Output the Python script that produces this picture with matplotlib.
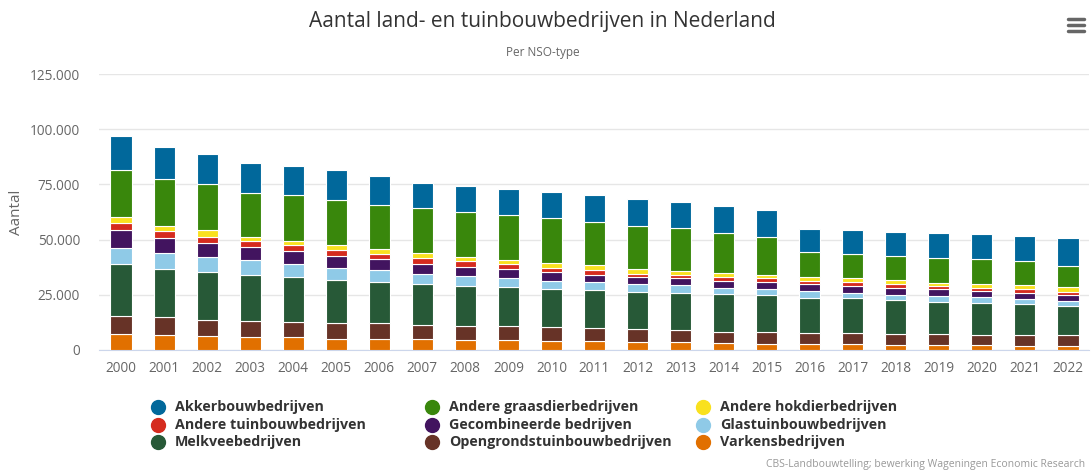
import matplotlib.pyplot as plt
import numpy as np
from matplotlib.ticker import FuncFormatter

# Aantal land- en tuinbouwbedrijven per NSO-type
jaren = [str(j) for j in range(2000, 2023)]

varkens = [7100, 6650, 6200, 5750, 5750, 5000, 5000, 4830, 4380, 4380, 3920, 3920,
           3470, 3470, 3020, 2720, 2720, 2720, 2260, 2260, 2260, 1810, 1810]
opengrond = [8400, 8150, 7400, 7400, 6950, 7100, 7100, 6640, 6490, 6490, 6340, 5890,
             5890, 5440, 5130, 5430, 4830, 4830, 4840, 4840, 4380, 4830, 4830]
melkvee = [23400, 21900, 21600, 20800, 20200, 19750, 18700, 18270, 18270, 17820, 17210, 17220,
           17060, 17060, 17210, 16610, 16150, 16150, 15550, 14640, 14500, 14050, 13440]
glas = [7400, 7100, 7050, 6650, 6050, 5450, 5300, 4830, 4370, 3920, 3930, 3770,
        3320, 3320, 2870, 2720, 2870, 2270, 2260, 2720, 2710, 2410, 2270]
gecombineerd = [8000, 6900, 6200, 5900, 5900, 5400, 5000, 4230, 4230, 4230, 3770, 3170,
                3170, 3170, 3170, 3170, 3170, 3170, 3170, 3170, 2720, 2870, 2560]
andere_tuinbouw = [3300, 3200, 2850, 2750, 2700, 2600, 2250, 2720, 2420, 2260, 2110, 2260,
                   1660, 1510, 1810, 1810, 1510, 1660, 1660, 1360, 1660, 1660, 1510]
hokdier = [2700, 2250, 2900, 1950, 1950, 2250, 2400, 2260, 2110, 1660, 2260, 2120,
           2270, 1810, 1510, 1660, 1660, 1660, 1820, 1350, 1510, 1660, 2110]
graasdier = [21400, 21450, 20850, 20050, 20550, 20400, 20050, 20380, 20380, 20230, 20380, 19470,
             19320, 19330, 18120, 17060, 11320, 11170, 11010, 11330, 11320, 11170, 9370]
akkerbouw = [15100, 14500, 13750, 13300, 13400, 13450, 12850, 11630, 11630, 11780, 11630, 12230,
             12230, 11770, 12230, 12380, 10720, 10720, 10720, 11170, 11330, 11170, 12820]

# stapelvolgorde van onder naar boven
series = [
    ("Varkensbedrijven", varkens, "#e17000"),
    ("Opengrondstuinbouwbedrijven", opengrond, "#673327"),
    ("Melkveebedrijven", melkvee, "#275937"),
    ("Glastuinbouwbedrijven", glas, "#8fcae7"),
    ("Gecombineerde bedrijven", gecombineerd, "#42145f"),
    ("Andere tuinbouwbedrijven", andere_tuinbouw, "#d52b1e"),
    ("Andere hokdierbedrijven", hokdier, "#f9e11e"),
    ("Andere graasdierbedrijven", graasdier, "#39870c"),
    ("Akkerbouwbedrijven", akkerbouw, "#01689b"),
]

plt.rcParams['font.family'] = ['Open Sans', 'DejaVu Sans']

fig = plt.figure(figsize=(10.92, 4.72), dpi=100)
ax = fig.add_axes([0.0911, 0.2585, 0.9066, 0.5847])

x = np.arange(len(jaren))
bottom = np.zeros(len(jaren))
for naam, vals, kleur in series:
    v = np.array(vals, dtype=float)
    ax.bar(x, v, bottom=bottom, width=0.49, color=kleur, edgecolor='white',
           linewidth=0.8, label=naam, zorder=3)
    bottom += v

ax.set_xlim(-0.5, len(jaren) - 0.5)
ax.set_ylim(0, 125000)
ax.set_yticks(np.arange(0, 125001, 25000))
ax.yaxis.set_major_formatter(FuncFormatter(lambda v, p: f"{int(v):,}".replace(",", ".")))
ax.set_xticks(x)
ax.set_xticklabels(jaren)
ax.grid(axis='y', color='#e6e6e6', linewidth=1, zorder=0)
for s in ['top', 'right', 'left']:
    ax.spines[s].set_visible(False)
ax.spines['bottom'].set_color('#ccd6eb')
ax.tick_params(axis='both', length=0, colors='#666666', labelsize=9.8)
ax.tick_params(axis='y', pad=14)
ax.tick_params(axis='x', pad=8)
ax.set_ylabel("Aantal", color='#666666', fontsize=11, labelpad=4)

fig.text(0.497, 0.955, "Aantal land- en tuinbouwbedrijven in Nederland",
         ha='center', va='center', fontsize=15, color='#333333')
fig.text(0.497, 0.889, "Per NSO-type", ha='center', va='center', fontsize=8.5, color='#666666')

# legenda, rij voor rij in 3 kolommen (alfabetisch)
leg_items = sorted(series, key=lambda s: s[0])
col_x = [0.1445, 0.3955, 0.6435]
row_y = [1 - 407 / 472, 1 - 425 / 472, 1 - 442 / 472]
for i, (naam, vals, kleur) in enumerate(leg_items):
    r, c = i // 3, i % 3
    fig.lines.append(plt.Line2D([col_x[c]], [row_y[r]], marker='o', markersize=10,
                                color=kleur, transform=fig.transFigure))
    fig.text(col_x[c] + 0.0155, row_y[r], naam, ha='left', va='center',
             fontsize=10.3, fontweight='bold', color='#333333')

fig.text(0.994, 1 - 465 / 472, "CBS-Landbouwtelling; bewerking Wageningen Economic Research",
         ha='right', va='center', fontsize=7.5, color='#999999')

# menu-icoon rechtsboven
for dy in (-6, 0, 6):
    yy = 1 - (25 + dy) / 472
    fig.lines.append(plt.Line2D([1068 / 1092, 1084 / 1092], [yy, yy], color='#666666',
                                linewidth=2.5, solid_capstyle='round', transform=fig.transFigure))

fig.savefig("out.png", dpi=100)
